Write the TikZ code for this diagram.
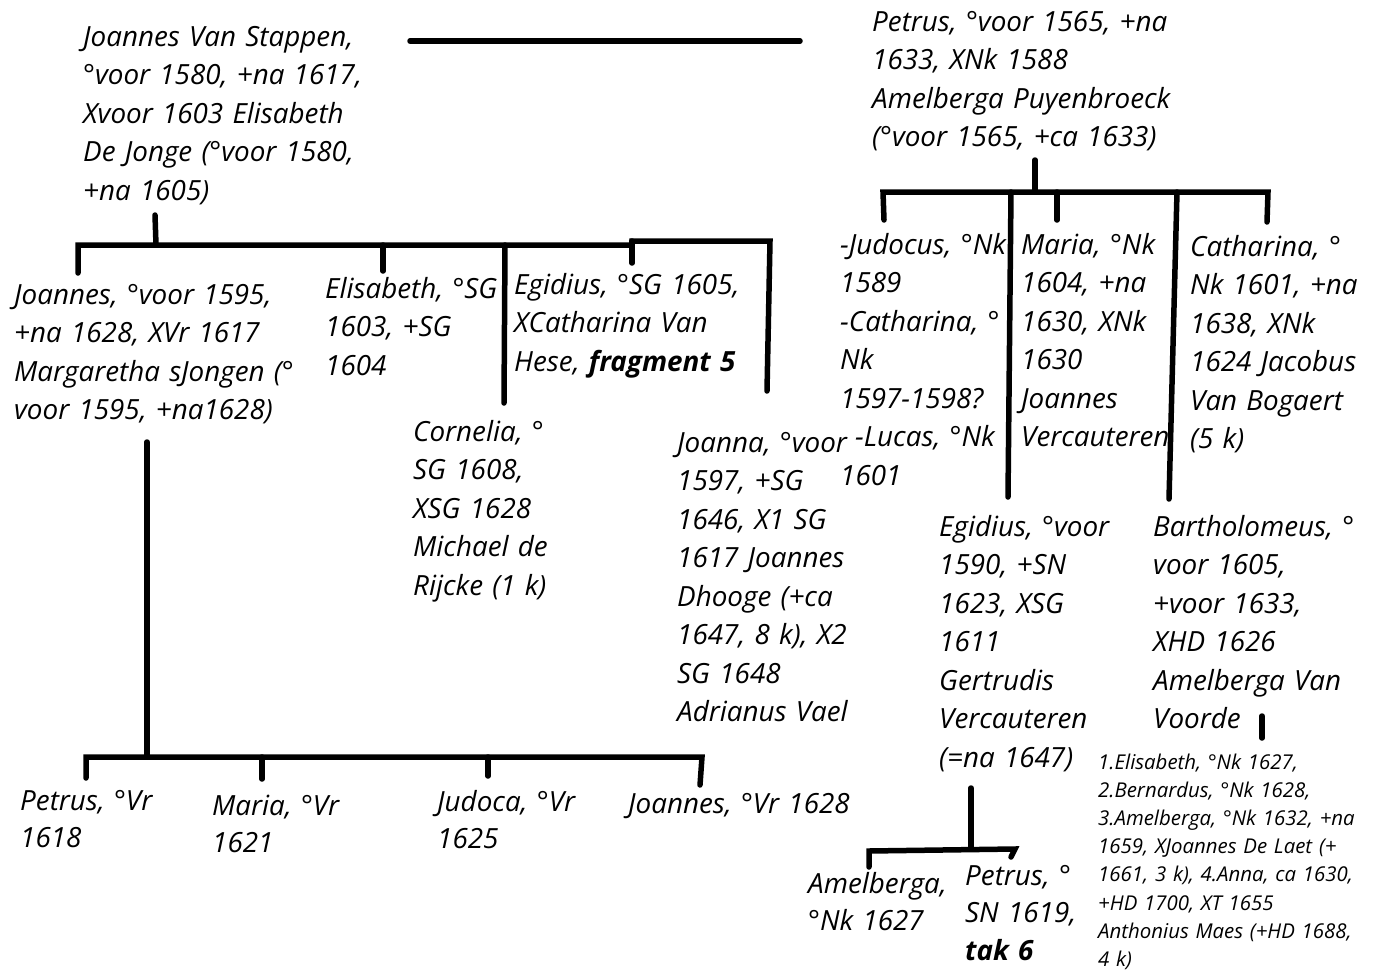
\documentclass[tikz,border=0pt]{standalone}
\usepackage{fontspec}
\setmainfont{Open Sans}
\begin{document}
\begin{tikzpicture}[x=1pt,y=-1pt,
  txt/.style={anchor=base west,inner sep=0pt,text width=460pt,align=left,
    font={\fontsize{27.8}{38.5}\selectfont\itshape}},
  txtb/.style={txt,font={\fontsize{27.8}{37.5}\selectfont\itshape}},
  small/.style={anchor=base west,inner sep=0pt,text width=460pt,align=left,
    font={\fontsize{20.4}{28.2}\selectfont\itshape}},
  bar/.style={line width=5.5pt,line cap=round}]
\useasboundingbox (0,0) rectangle (1379,972);

% texts
\node[txt] (jvs) at (83,46) {Joannes Van Stappen,\\°voor 1580, +na 1617,\\Xvoor 1603 Elisabeth\\De Jonge (°voor 1580,\\+na 1605)};
\node[txt] (pet) at (872,31) {Petrus, °voor 1565, +na\\1633, XNk 1588\\Amelberga Puyenbroeck\\(°voor 1565, +ca 1633)};
\node[txt] (joa) at (14,304) {Joannes, °voor 1595,\\+na 1628, XVr 1617\\Margaretha sJongen (°\\voor 1595, +na1628)};
\node[txt] (eli) at (325,298) {Elisabeth, °SG\\1603, +SG\\1604};
\node[txt] (egi) at (514,294) {Egidius, °SG 1605,\\XCatharina Van\\Hese, \textbf{fragment 5}};
\node[txt] (cor) at (413,441) {Cornelia, °\\SG 1608,\\XSG 1628\\Michael de\\Rijcke (1 k)};
\node[txt] (jna) at (677,452) {Joanna, °voor\\1597, +SG\\1646, X1 SG\\1617 Joannes\\Dhooge (+ca\\1647, 8 k), X2\\SG 1648\\Adrianus Vael};
\node[txt] (jud) at (840,254) {-Judocus, °Nk\\1589\\-Catharina, °\\Nk\\1597-1598?\\\hspace*{15pt}-Lucas, °Nk\\1601};
\node[txt] (mar) at (1021,254) {Maria, °Nk\\1604, +na\\1630, XNk\\1630\\Joannes\\Vercauteren};
\node[txt] (cat) at (1190,256) {Catharina, °\\Nk 1601, +na\\1638, XNk\\1624 Jacobus\\Van Bogaert\\(5 k)};
\node[txt] (egr) at (939,536) {Egidius, °voor\\1590, +SN\\1623, XSG\\1611\\Gertrudis\\Vercauteren\\(=na 1647)};
\node[txt] (bar) at (1153,536) {Bartholomeus, °\\voor 1605,\\+voor 1633,\\XHD 1626\\Amelberga Van\\Voorde};
\node[small] (kids) at (1098,769) {1.Elisabeth, °Nk 1627,\\2.Bernardus, °Nk 1628,\\3.Amelberga, °Nk 1632, +na\\1659, XJoannes De Laet (+\\1661, 3 k), 4.Anna, ca 1630,\\+HD 1700, XT 1655\\Anthonius Maes (+HD 1688,\\4 k)};
\node[txtb] (pvr) at (20,810) {Petrus, °Vr\\1618};
\node[txtb] (mvr) at (212,815) {Maria, °Vr\\1621};
\node[txtb] (jvr) at (437,811) {Judoca, °Vr\\1625};
\node[txtb] (jov) at (628,813) {Joannes, °Vr 1628};
\node[txtb] (ame) at (808,893) {Amelberga,\\°Nk 1627};
\node[txtb] (psn) at (965,885) {Petrus, °\\SN 1619,\\\textbf{tak 6}};

% coordinates of the connectors
\coordinate (m1) at (410,41);  \coordinate (m2) at (800,41);
\coordinate (a0) at (155,215); \coordinate (a1) at (156,245);
\coordinate (aL) at (78,245);  \coordinate (aM) at (632,245);
\coordinate (aM2) at (632,241); \coordinate (aR) at (770,241);
\coordinate (d1) at (78,273);  \coordinate (d2a) at (383,245); \coordinate (d2) at (383,271);
\coordinate (d3a) at (505,245); \coordinate (d3) at (504,403);
\coordinate (d4) at (632,263); \coordinate (d5) at (767,391);
\coordinate (b0) at (1035,160); \coordinate (b1) at (1035,192);
\coordinate (bL) at (883,192); \coordinate (bR) at (1268,192);
\coordinate (e1) at (884,220);
\coordinate (e2a) at (1011,192); \coordinate (e2) at (1008,497);
\coordinate (e3a) at (1057,192); \coordinate (e3) at (1057,220);
\coordinate (e4a) at (1177,192); \coordinate (e4) at (1169,499);
\coordinate (e5) at (1267,222);
\coordinate (c0) at (147,442); \coordinate (c1) at (147,757);
\coordinate (cL) at (86,757); \coordinate (cR) at (702,757);
\coordinate (f1) at (86,778); \coordinate (f2a) at (262,757); \coordinate (f2) at (262,779);
\coordinate (f3a) at (488,757); \coordinate (f3) at (488,776);
\coordinate (f4) at (700,785);
\coordinate (g0) at (971,788); \coordinate (g1) at (971,849);
\coordinate (gL) at (869,851); \coordinate (gR) at (1015,849);
\coordinate (h1) at (869,867); \coordinate (h2) at (1011,857);
\coordinate (k0) at (1262,716); \coordinate (k1) at (1262,738);

% connectors
\draw[bar] (m1) -- (m2);
\draw[bar] (a0) -- (a1);
\draw[bar] (d1) -- (aL) -- (aM) -- (aM2) -- (aR) -- (d5);
\draw[bar] (d2a) -- (d2);
\draw[bar] (d3a) -- (d3);
\draw[bar] (aM2) -- (d4);
\draw[bar] (b0) -- (b1);
\draw[bar] (e1) -- (bL) -- (bR) -- (e5);
\draw[bar] (e2a) -- (e2);
\draw[bar] (e3a) -- (e3);
\draw[bar] (e4a) -- (e4);
\draw[bar] (c0) -- (c1);
\draw[bar] (f1) -- (cL) -- (cR) -- (f4);
\draw[bar] (f2a) -- (f2);
\draw[bar] (f3a) -- (f3);
\draw[bar] (g0) -- (g1);
\draw[bar] (h1) -- (gL) -- (gR) -- (h2);
\draw[bar] (k0) -- (k1);
\end{tikzpicture}
\end{document}
